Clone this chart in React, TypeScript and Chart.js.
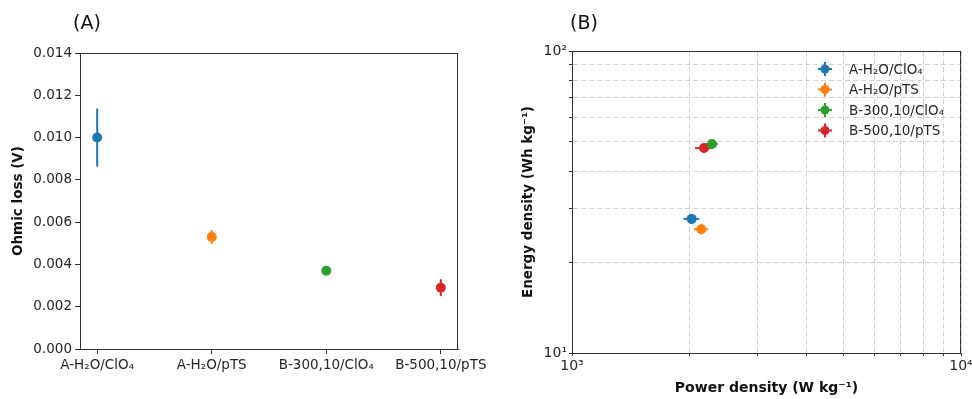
import React, { useEffect, useRef } from "react";
import { Chart, registerables } from "chart.js";

Chart.register(...registerables);

// ---- data ----
const categories = ["A-H₂O/ClO₄", "A-H₂O/pTS", "B-300,10/ClO₄", "B-500,10/pTS"];
const seriesColors = ["#1f77b4", "#ff7f0e", "#2ca02c", "#d62728"];
const ohmicLoss = [0.01, 0.0053, 0.0037, 0.0029];
const ohmicErr = [0.00137, 0.00033, 0.00008, 0.0004];
const powerDensity = [2030, 2150, 2290, 2185];
const powerErr = [95, 90, 80, 115];
const energyDensity = [27.8, 25.7, 49.2, 47.7];
const energyErr = [1.1, 1.0, 1.8, 1.7];
const yTicksA = [0, 0.002, 0.004, 0.006, 0.008, 0.01, 0.012, 0.014];
const xTicksB = [1000, 2000, 3000, 4000, 5000, 6000, 7000, 8000, 9000, 10000];
const yTicksB = [10, 20, 30, 40, 50, 60, 70, 80, 90, 100];
const supers: Record<string, string> = { "1": "¹", "2": "²", "3": "³", "4": "⁴" };

const FONT = "'DejaVu Sans', sans-serif";
const TXT = "#262626";
const AX = "#333333";

const errorBarPlugin = {
  id: "errorBars",
  beforeDatasetsDraw(chart: any) {
    const { ctx, scales } = chart;
    const xs = scales.x;
    const ys = scales.y;
    chart.data.datasets.forEach((ds: any) => {
      const p = ds.data[0];
      ctx.save();
      ctx.strokeStyle = ds.borderColor;
      ctx.lineWidth = 2;
      const px = xs.getPixelForValue(p.x);
      const py = ys.getPixelForValue(p.y);
      if (ds.yErr) {
        ctx.beginPath();
        ctx.moveTo(px, ys.getPixelForValue(p.y - ds.yErr));
        ctx.lineTo(px, ys.getPixelForValue(p.y + ds.yErr));
        ctx.stroke();
      }
      if (ds.xErr) {
        ctx.beginPath();
        ctx.moveTo(xs.getPixelForValue(p.x - ds.xErr), py);
        ctx.lineTo(xs.getPixelForValue(p.x + ds.xErr), py);
        ctx.stroke();
      }
      ctx.restore();
    });
  },
};

const framePlugin = {
  id: "frame",
  afterDraw(chart: any) {
    const { ctx, chartArea: a } = chart;
    ctx.save();
    ctx.strokeStyle = AX;
    ctx.lineWidth = 1;
    ctx.strokeRect(a.left + 0.5, a.top + 0.5, a.right - a.left - 1, a.bottom - a.top);
    ctx.restore();
  },
};

const legendPlugin = {
  id: "customLegend",
  afterDraw(chart: any) {
    const { ctx, chartArea: a } = chart;
    const mx = a.left + 253;
    const tx = a.left + 277;
    const y0 = a.top + 18;
    const dy = 20.5;
    ctx.save();
    categories.forEach((c, i) => {
      const y = y0 + i * dy;
      ctx.strokeStyle = seriesColors[i];
      ctx.fillStyle = seriesColors[i];
      ctx.lineWidth = 2;
      ctx.beginPath();
      ctx.moveTo(mx - 7, y);
      ctx.lineTo(mx + 7, y);
      ctx.moveTo(mx, y - 7);
      ctx.lineTo(mx, y + 7);
      ctx.stroke();
      ctx.beginPath();
      ctx.arc(mx, y, 4.5, 0, Math.PI * 2);
      ctx.fill();
      ctx.fillStyle = TXT;
      ctx.font = `13.5px ${FONT}`;
      ctx.textBaseline = "middle";
      ctx.textAlign = "left";
      ctx.fillText(c, tx, y + 1);
    });
    ctx.restore();
  },
};

function ChartA() {
  const ref = useRef<HTMLCanvasElement>(null);
  useEffect(() => {
    const datasets = categories.map((c, i) => ({
      label: c,
      data: [{ x: i, y: ohmicLoss[i] }],
      backgroundColor: seriesColors[i],
      borderColor: seriesColors[i],
      pointRadius: 5,
      pointBorderWidth: 0,
      yErr: ohmicErr[i],
    }));
    const chart = new Chart(ref.current!, {
      type: "scatter",
      data: { datasets } as any,
      plugins: [errorBarPlugin, framePlugin],
      options: {
        animation: false,
        responsive: false,
        devicePixelRatio: 1,
        layout: { padding: { top: 53, right: 28, left: 0, bottom: 0 } },
        plugins: { legend: { display: false }, tooltip: { enabled: false } },
        scales: {
          x: {
            type: "linear",
            min: -0.15,
            max: 3.15,
            afterBuildTicks: (s: any) => {
              s.ticks = categories.map((_, i) => ({ value: i }));
            },
            afterFit: (s: any) => {
              s.height = 50;
              s.paddingLeft = 0;
              s.paddingRight = 0;
            },
            ticks: {
              autoSkip: false,
              maxRotation: 0,
              padding: 3,
              color: TXT,
              font: { family: FONT, size: 13.5 },
              callback: (v: any) => categories[Math.round(v)] ?? "",
            },
            grid: { drawOnChartArea: false, drawTicks: true, tickLength: 5, tickColor: AX },
            border: { color: AX },
          },
          y: {
            min: 0,
            max: 0.014,
            afterBuildTicks: (s: any) => {
              s.ticks = yTicksA.map((v) => ({ value: v }));
            },
            afterFit: (s: any) => {
              s.width = 80;
              s.paddingTop = 0;
              s.paddingBottom = 0;
            },
            ticks: {
              padding: 3,
              color: TXT,
              font: { family: FONT, size: 13.5 },
              callback: (v: any) => Number(v).toFixed(3),
            },
            grid: { drawOnChartArea: false, drawTicks: true, tickLength: 5, tickColor: AX },
            border: { color: AX },
            title: {
              display: true,
              text: "Ohmic loss (V)",
              color: "#111",
              font: { family: FONT, size: 13.5, weight: "bold" },
              padding: { top: 10, bottom: 0 },
            },
          },
        },
      } as any,
    });
    return () => chart.destroy();
  }, []);
  return <canvas ref={ref} width={486} height={399} style={{ width: 486, height: 399, display: "block" }} />;
}

function ChartB() {
  const ref = useRef<HTMLCanvasElement>(null);
  useEffect(() => {
    const datasets = categories.map((c, i) => ({
      label: c,
      data: [{ x: powerDensity[i], y: energyDensity[i] }],
      backgroundColor: seriesColors[i],
      borderColor: seriesColors[i],
      pointRadius: 5,
      pointBorderWidth: 0,
      xErr: powerErr[i],
      yErr: energyErr[i],
    }));
    const pow10 = (v: number) => {
      const e = Math.round(Math.log10(v));
      return Math.abs(Math.pow(10, e) - v) < 1e-6 * v ? "10" + (supers[String(e)] ?? "") : "";
    };
    const chart = new Chart(ref.current!, {
      type: "scatter",
      data: { datasets } as any,
      plugins: [errorBarPlugin, framePlugin, legendPlugin],
      options: {
        animation: false,
        responsive: false,
        devicePixelRatio: 1,
        layout: { padding: { top: 51, right: 11, left: 0, bottom: 0 } },
        plugins: { legend: { display: false }, tooltip: { enabled: false } },
        scales: {
          x: {
            type: "logarithmic",
            min: 1000,
            max: 10000,
            afterBuildTicks: (s: any) => {
              s.ticks = xTicksB.map((v) => ({ value: v }));
            },
            afterFit: (s: any) => {
              s.height = 46;
              s.paddingLeft = 0;
              s.paddingRight = 0;
            },
            ticks: {
              autoSkip: false,
              maxRotation: 0,
              padding: 2,
              color: TXT,
              font: { family: FONT, size: 14 },
              callback: (v: any) => pow10(Number(v)),
            },
            grid: { color: "#d0d0d0", lineWidth: 1, drawTicks: true, tickLength: 3, tickColor: AX, tickBorderDash: [] },
            border: { color: AX, dash: [5, 3] },
            title: {
              display: true,
              text: "Power density (W kg⁻¹)",
              color: "#111",
              font: { family: FONT, size: 14, weight: "bold" },
              padding: { top: 0, bottom: 2 },
            },
          },
          y: {
            type: "logarithmic",
            min: 10,
            max: 100,
            afterBuildTicks: (s: any) => {
              s.ticks = yTicksB.map((v) => ({ value: v }));
            },
            afterFit: (s: any) => {
              s.width = 86;
              s.paddingTop = 0;
              s.paddingBottom = 0;
            },
            ticks: {
              autoSkip: false,
              padding: 2,
              color: TXT,
              font: { family: FONT, size: 14 },
              callback: (v: any) => pow10(Number(v)),
            },
            grid: { color: "#d0d0d0", lineWidth: 1, drawTicks: true, tickLength: 3, tickColor: AX, tickBorderDash: [] },
            border: { color: AX, dash: [5, 3] },
            title: {
              display: true,
              text: "Energy density (Wh kg⁻¹)",
              color: "#111",
              font: { family: FONT, size: 13.5, weight: "bold" },
              padding: { top: 34, bottom: 0 },
            },
          },
        },
      } as any,
    });
    return () => chart.destroy();
  }, []);
  return <canvas ref={ref} width={486} height={399} style={{ width: 486, height: 399, display: "block" }} />;
}

export default function App() {
  const label: React.CSSProperties = {
    position: "absolute",
    fontFamily: FONT,
    fontSize: 19,
    lineHeight: "19px",
    color: "#111",
    top: 13,
  };
  return (
    <div style={{ position: "absolute", left: 0, top: 0, width: 972, height: 399, background: "#fff", overflow: "hidden" }}>
      <div style={{ position: "absolute", left: 0, top: 0 }}>
        <ChartA />
      </div>
      <div style={{ position: "absolute", left: 486, top: 0 }}>
        <ChartB />
      </div>
      <div style={{ ...label, left: 73 }}>(A)</div>
      <div style={{ ...label, left: 570 }}>(B)</div>
    </div>
  );
}
